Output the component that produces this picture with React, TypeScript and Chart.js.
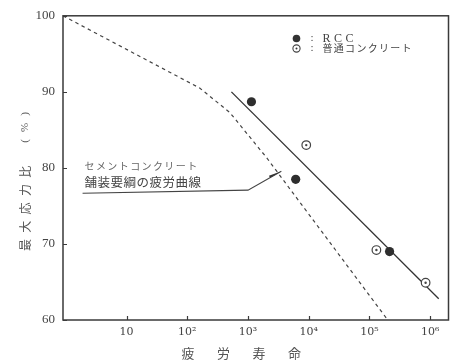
import React, { useEffect, useRef } from "react";
import { Chart, registerables } from "chart.js";

Chart.register(...registerables);

// Axis ticks
const LIFE_TICKS = [10, 1e2, 1e3, 1e4, 1e5, 1e6];
const LIFE_TICK_LABELS = ["10", "10²", "10³", "10⁴", "10⁵", "10⁶"];
const LIFE_MIN = 0.9;
const LIFE_MAX = 2.0e6;
const RATIO_MIN = 60;
const RATIO_MAX = 100;
const RATIO_STEP = 10;

// Test results
const RCC_LIFE = [1140, 6100, 214000];
const RCC_RATIO = [88.7, 78.5, 69.0];
const NORMAL_LIFE = [9100, 130000, 840000];
const NORMAL_RATIO = [83.0, 69.2, 64.9];

// Fitted fatigue line through the results
const FIT_LIFE = [533, 1380000];
const FIT_RATIO = [90.0, 62.8];

// Design fatigue curve (pavement guideline)
const GUIDE_LIFE = [0.9, 160, 500, 2000, 200000];
const GUIDE_RATIO = [100, 90.5, 87.3, 81.4, 60];

// Leader line pointing from the caption to the design curve
const LEADER_LIFE = [1.89, 1000, 3540];
const LEADER_RATIO = [76.66, 77.08, 79.55];

// Text
const X_TITLE = ["疲", "労", "寿", "命"];
const Y_TITLE = ["最", "大", "応", "力", "比"];
const Y_UNIT = ["(", "%", ")"];
const LEGEND_RCC = "RCC";
const LEGEND_NORMAL = "普通コンクリート";
const CAPTION_TOP = "セメントコンクリート";
const CAPTION_MAIN = "舗装要綱の疲労曲線";

const SERIF = "'Liberation Serif', 'DejaVu Serif', serif";
const JP = "'Noto Sans CJK JP', sans-serif";
const INK = "#3a3a3a";

const zip = (xs: number[], ys: number[]) => xs.map((x, i) => ({ x, y: ys[i] }));

const decorPlugin = {
  id: "decor",
  beforeDraw(chart: any) {
    const { ctx, width, height } = chart;
    ctx.save();
    ctx.fillStyle = "#ffffff";
    ctx.fillRect(0, 0, width, height);
    ctx.restore();
  },
  afterDraw(chart: any) {
    const { ctx, chartArea: a, scales } = chart;
    const xs = scales.x;
    const ys = scales.y;
    ctx.save();

    // frame
    ctx.strokeStyle = INK;
    ctx.lineWidth = 1.5;
    ctx.strokeRect(a.left, a.top, a.right - a.left, a.bottom - a.top);

    // inward tick marks
    ctx.lineWidth = 1.2;
    ctx.beginPath();
    xs.ticks.forEach((t: any) => {
      const px = Math.round(xs.getPixelForValue(t.value)) + 0.5;
      ctx.moveTo(px, a.bottom);
      ctx.lineTo(px, a.bottom - 4);
    });
    ys.ticks.forEach((t: any) => {
      const py = Math.round(ys.getPixelForValue(t.value)) + 0.5;
      ctx.moveTo(a.left, py);
      ctx.lineTo(a.left + 4, py);
    });
    ctx.stroke();

    // x axis title
    ctx.fillStyle = "#555";
    ctx.font = `13px ${JP}`;
    ctx.textAlign = "center";
    ctx.textBaseline = "middle";
    X_TITLE.forEach((c, i) => {
      ctx.fillText(c, a.left + 125 + i * 35.5, a.bottom + 33);
    });

    // y axis title (rotated)
    const tx = a.left - 38;
    ctx.font = `12px ${JP}`;
    Y_TITLE.forEach((c, i) => {
      ctx.save();
      ctx.translate(tx, a.bottom - 75 - i * 18.3);
      ctx.rotate(-Math.PI / 2);
      ctx.fillText(c, 0, 0);
      ctx.restore();
    });
    ctx.font = `11px ${SERIF}`;
    Y_UNIT.forEach((c, i) => {
      ctx.save();
      ctx.translate(tx, a.bottom - 179 - i * 13.5);
      ctx.rotate(-Math.PI / 2);
      ctx.fillText(c, 0, 0);
      ctx.restore();
    });

    // legend
    const lx = a.right - 152;
    const ly1 = a.top + 22.7;
    const ly2 = a.top + 32.7;
    ctx.fillStyle = "#333";
    ctx.beginPath();
    ctx.arc(lx, ly1, 3.8, 0, Math.PI * 2);
    ctx.fill();
    ctx.strokeStyle = "#444";
    ctx.lineWidth = 1.1;
    ctx.beginPath();
    ctx.arc(lx, ly2, 3.6, 0, Math.PI * 2);
    ctx.stroke();
    ctx.beginPath();
    ctx.arc(lx, ly2, 1, 0, Math.PI * 2);
    ctx.fill();
    ctx.fillStyle = "#444";
    ctx.font = `11px ${SERIF}`;
    ctx.textAlign = "center";
    ctx.fillText(":", lx + 15.5, ly1);
    ctx.fillText(":", lx + 15.5, ly2);
    ctx.textAlign = "left";
    ctx.font = `12px ${SERIF}`;
    (ctx as any).letterSpacing = "3.5px";
    ctx.fillText(LEGEND_RCC, lx + 26, ly1 + 0.5);
    (ctx as any).letterSpacing = "1.3px";
    ctx.font = `10px ${JP}`;
    ctx.fillText(LEGEND_NORMAL, lx + 26, ly2);

    // caption over the leader line
    const cx = xs.getPixelForValue(LEADER_LIFE[0]);
    const cy = ys.getPixelForValue(LEADER_RATIO[0]);
    ctx.fillStyle = "#666";
    ctx.font = `10px ${JP}`;
    (ctx as any).letterSpacing = "1.4px";
    ctx.fillText(CAPTION_TOP, cx + 2, cy - 27);
    (ctx as any).letterSpacing = "0.5px";
    ctx.fillStyle = "#444";
    ctx.font = `12.5px ${JP}`;
    ctx.fillText(CAPTION_MAIN, cx + 2, cy - 11);
    (ctx as any).letterSpacing = "0px";

    // arrow head at the end of the leader
    const n = LEADER_LIFE.length;
    const ex = xs.getPixelForValue(LEADER_LIFE[n - 1]);
    const ey = ys.getPixelForValue(LEADER_RATIO[n - 1]);
    const px = xs.getPixelForValue(LEADER_LIFE[n - 2]);
    const py = ys.getPixelForValue(LEADER_RATIO[n - 2]);
    const ang = Math.atan2(ey - py, ex - px);
    const L = 13;
    const W = 2.2;
    const bx = ex - L * Math.cos(ang);
    const by = ey - L * Math.sin(ang);
    ctx.fillStyle = "#333";
    ctx.beginPath();
    ctx.moveTo(ex, ey);
    ctx.lineTo(bx + W * Math.sin(ang), by - W * Math.cos(ang));
    ctx.lineTo(bx, by);
    ctx.closePath();
    ctx.fill();

    ctx.restore();
  },
};

export default function App() {
  const canvasRef = useRef<HTMLCanvasElement | null>(null);

  useEffect(() => {
    const canvas = canvasRef.current;
    if (!canvas) return;
    // Chart.js paints the first dataset on top, so markers come first.
    const chart = new Chart(canvas, {
      type: "scatter",
      data: {
        datasets: [
          {
            label: "普通コンクリート center",
            data: zip(NORMAL_LIFE, NORMAL_RATIO),
            pointRadius: 1.2,
            pointBackgroundColor: "#444",
            pointBorderColor: "#444",
            pointBorderWidth: 0,
          },
          {
            label: "普通コンクリート",
            data: zip(NORMAL_LIFE, NORMAL_RATIO),
            pointRadius: 4.3,
            pointBackgroundColor: "#ffffff",
            pointBorderColor: "#444",
            pointBorderWidth: 1.2,
          },
          {
            label: "RCC",
            data: zip(RCC_LIFE, RCC_RATIO),
            pointRadius: 4.6,
            pointBackgroundColor: "#2e2e2e",
            pointBorderColor: "#2e2e2e",
            pointBorderWidth: 0,
          },
          {
            label: "舗装要綱の疲労曲線",
            data: zip(GUIDE_LIFE, GUIDE_RATIO),
            showLine: true,
            borderColor: "#444",
            borderWidth: 1.2,
            borderDash: [3.5, 3.5],
            pointRadius: 0,
            tension: 0,
          },
          {
            label: "fit",
            data: zip(FIT_LIFE, FIT_RATIO),
            showLine: true,
            borderColor: "#333",
            borderWidth: 1.3,
            pointRadius: 0,
          },
          {
            label: "leader",
            data: zip(LEADER_LIFE, LEADER_RATIO),
            showLine: true,
            borderColor: "#444",
            borderWidth: 1.1,
            pointRadius: 0,
          },
        ],
      },
      options: {
        responsive: false,
        animation: false,
        devicePixelRatio: 1,
        layout: { padding: { top: 12, right: 5, bottom: 0, left: 0 } },
        plugins: {
          legend: { display: false },
          tooltip: { enabled: false },
        },
        scales: {
          x: {
            type: "logarithmic",
            min: LIFE_MIN,
            max: LIFE_MAX,
            grid: { display: false, drawTicks: false },
            border: { display: false },
            afterBuildTicks: (scale: any) => {
              scale.ticks = LIFE_TICKS.map((v) => ({ value: v }));
            },
            afterFit: (scale: any) => {
              scale.height = 40;
            },
            ticks: {
              autoSkip: false,
              maxRotation: 0,
              padding: 6,
              color: "#444",
              font: { family: "'DejaVu Serif', serif", size: 11 },
              callback: (_v: any, i: number) => LIFE_TICK_LABELS[i],
            },
          },
          y: {
            type: "linear",
            min: RATIO_MIN,
            max: RATIO_MAX,
            grid: { display: false, drawTicks: false },
            border: { display: false },
            afterFit: (scale: any) => {
              scale.width = 63;
            },
            ticks: {
              stepSize: RATIO_STEP,
              padding: 8,
              color: "#444",
              font: { family: SERIF, size: 13 },
            },
          },
        },
      },
      plugins: [decorPlugin],
    });
    return () => chart.destroy();
  }, []);

  return (
    <div style={{ position: "fixed", left: 0, top: 0, width: 454, height: 360 }}>
      <canvas ref={canvasRef} width={454} height={360} />
    </div>
  );
}
